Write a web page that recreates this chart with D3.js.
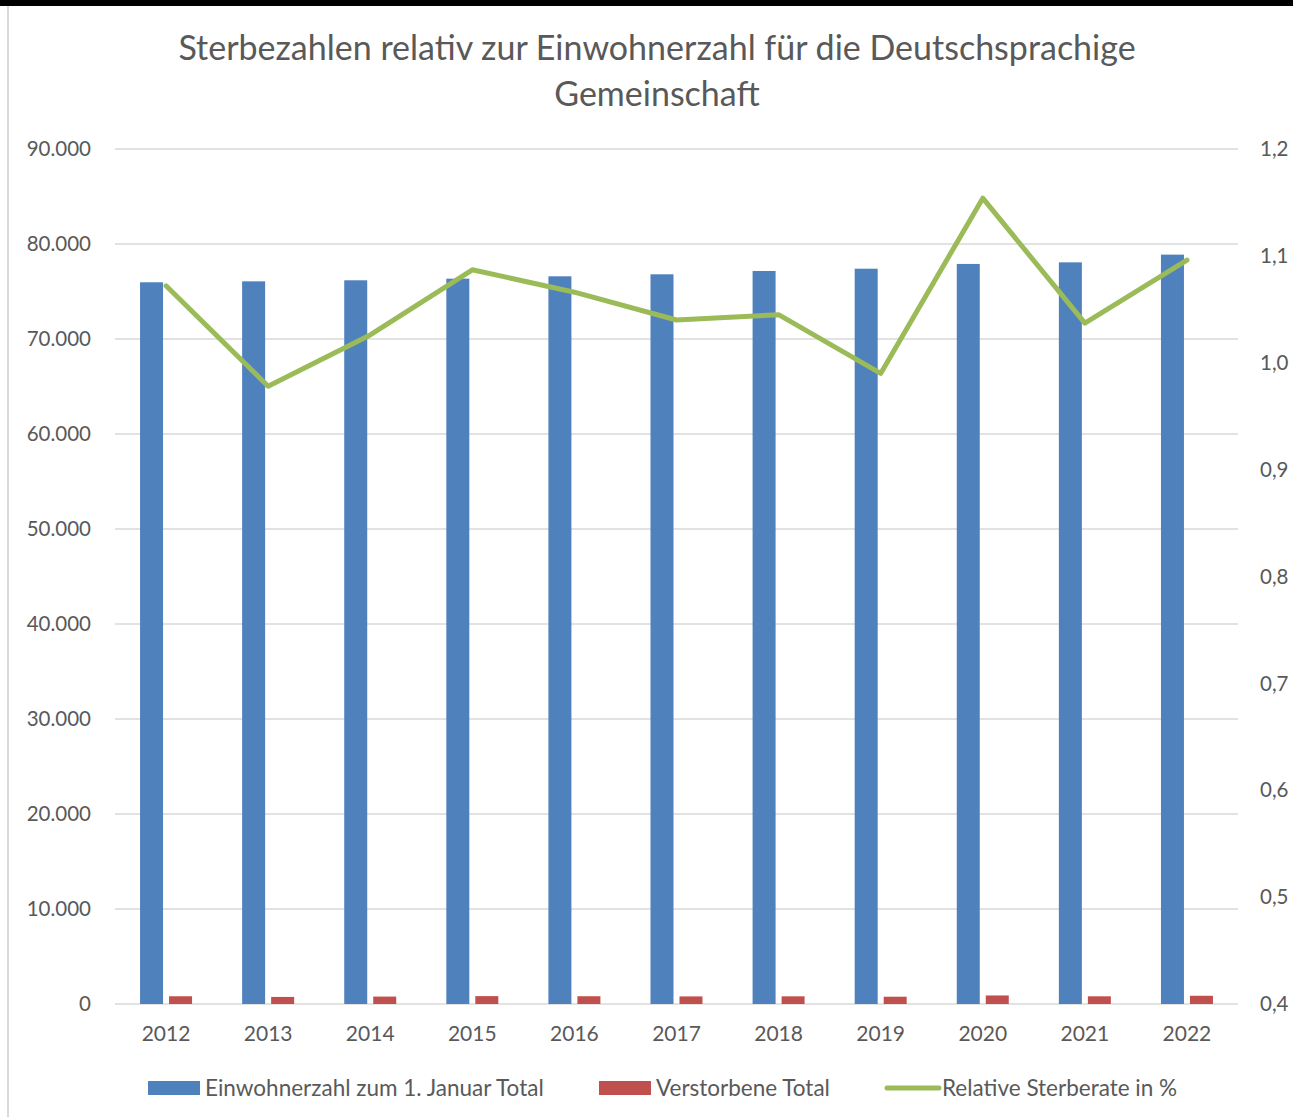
<!DOCTYPE html>
<html lang="de">
<head>
<meta charset="UTF-8">
<title>Sterbezahlen</title>
<script src="https://d3js.org/d3.v7.min.js"></script>
<style>
  body { margin: 0; background: #fff; }
  svg { display: block; }
  text { font-family: Lato, "Open Sans", sans-serif; fill: #595959; }
</style>
</head>
<body>
<script>
const years = ["2012","2013","2014","2015","2016","2017","2018","2019","2020","2021","2022"]
const einwohner = [75970, 76070, 76180, 76350, 76600, 76810, 77160, 77400, 77900, 78070, 78880]
const verstorbene = [814, 744, 781, 830, 817, 799, 807, 766, 899, 810, 865]
const rate = [1.072, 0.978, 1.026, 1.087, 1.066, 1.040, 1.045, 0.990, 1.154, 1.037, 1.096]
const leftTicks = [0, 10000, 20000, 30000, 40000, 50000, 60000, 70000, 80000, 90000]
const rightTicks = [0.4, 0.5, 0.6, 0.7, 0.8, 0.9, 1.0, 1.1, 1.2]
const seriesNames = ["Einwohnerzahl zum 1. Januar Total", "Verstorbene Total", "Relative Sterberate in %"]

const width = 1293, height = 1117
const blue = "#4F81BD", red = "#C0504D", green = "#9BBB59", grid = "#d9d9d9"

const svg = d3.select("body").append("svg")
    .attr("width", width).attr("height", height)

// frame
svg.append("rect").attr("x", 0).attr("y", 0).attr("width", width).attr("height", 6).attr("fill", "#000")
svg.append("line").attr("x1", 8).attr("x2", 8).attr("y1", 6).attr("y2", height)
    .attr("stroke", grid).attr("stroke-width", 2)

// title
const title = svg.append("text").attr("text-anchor", "middle").style("font-size", "34px")
title.append("tspan").attr("x", 657).attr("y", 60).text("Sterbezahlen relativ zur Einwohnerzahl für die Deutschsprachige")
title.append("tspan").attr("x", 657).attr("y", 106).text("Gemeinschaft")

const plot = {left: 115, right: 1238, top: 149, bottom: 1004}

const x = d3.scaleBand().domain(years).range([plot.left, plot.right])
const yL = d3.scaleLinear().domain([0, 90000]).range([plot.bottom, plot.top])
const yR = d3.scaleLinear().domain([0.4, 1.2]).range([plot.bottom, plot.top])

// gridlines
svg.append("g").selectAll("line").data(leftTicks).join("line")
    .attr("x1", plot.left).attr("x2", plot.right)
    .attr("y1", d => yL(d)).attr("y2", d => yL(d))
    .attr("stroke", grid).attr("stroke-width", 1.5)

// left axis labels
const fmtL = d => d === 0 ? "0" : d3.format(",")(d).replace(/,/g, ".")
svg.append("g").selectAll("text").data(leftTicks).join("text")
    .attr("x", 91).attr("y", d => yL(d)).attr("dy", "0.35em")
    .attr("text-anchor", "end").style("font-size", "20.5px")
    .text(fmtL)

// right axis labels
svg.append("g").selectAll("text").data(rightTicks).join("text")
    .attr("x", 1260).attr("y", d => yR(d)).attr("dy", "0.35em")
    .attr("text-anchor", "start").style("font-size", "20.5px")
    .text(d => d.toFixed(1).replace(".", ","))

// x labels
svg.append("g").selectAll("text").data(years).join("text")
    .attr("x", d => x(d) + x.bandwidth() / 2).attr("y", 1034).attr("dy", "0.35em")
    .attr("text-anchor", "middle").style("font-size", "21px")
    .text(d => d)

// bars
const barW = 23, gap = 6
svg.append("g").selectAll("rect").data(years).join("rect")
    .attr("x", d => x(d) + x.bandwidth() / 2 - gap / 2 - barW)
    .attr("y", (d, i) => yL(einwohner[i]))
    .attr("width", barW)
    .attr("height", (d, i) => yL(0) - yL(einwohner[i]))
    .attr("fill", blue)
svg.append("g").selectAll("rect").data(years).join("rect")
    .attr("x", d => x(d) + x.bandwidth() / 2 + gap / 2)
    .attr("y", (d, i) => yL(verstorbene[i]))
    .attr("width", barW)
    .attr("height", (d, i) => yL(0) - yL(verstorbene[i]))
    .attr("fill", red)

// line
const line = d3.line()
    .x((d, i) => x(years[i]) + x.bandwidth() / 2)
    .y(d => yR(d))
svg.append("path").datum(rate)
    .attr("d", line)
    .attr("fill", "none").attr("stroke", green)
    .attr("stroke-width", 5).attr("stroke-linejoin", "round").attr("stroke-linecap", "round")

// legend
const legendY = 1088
const lg = svg.append("g")
const items = [
    {name: seriesNames[0], x: 148, type: "rect", color: blue},
    {name: seriesNames[1], x: 599, type: "rect", color: red},
    {name: seriesNames[2], x: 885, type: "line", color: green}
]
items.forEach(it => {
    if (it.type === "rect") {
        lg.append("rect").attr("x", it.x).attr("y", legendY - 7).attr("width", 52).attr("height", 14).attr("fill", it.color)
    } else {
        lg.append("line").attr("x1", it.x + 2).attr("x2", it.x + 54).attr("y1", legendY).attr("y2", legendY)
            .attr("stroke", it.color).attr("stroke-width", 5).attr("stroke-linecap", "round")
    }
    lg.append("text").attr("x", it.x + 57).attr("y", legendY).attr("dy", "0.35em")
        .style("font-size", "22.5px").text(it.name)
})
</script>
</body>
</html>
